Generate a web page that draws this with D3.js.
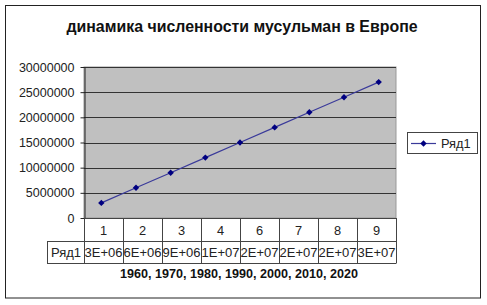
<!DOCTYPE html>
<html><head><meta charset="utf-8">
<script src="https://cdn.jsdelivr.net/npm/d3@7"></script>
<style>body{margin:0;background:#fff}svg{display:block;font-family:"Liberation Sans",Arial,sans-serif}</style>
</head><body><svg id="c" width="487" height="305"></svg>
<script>
const title = "динамика численности мусульман в Европе";
const xTitle = "1960, 1970, 1980, 1990, 2000, 2010, 2020";
const seriesName = "Ряд1";
const values = [3000000, 6000000, 9000000, 12000000, 15000000, 18000000, 21000000, 24000000, 27000000];
const tableCategories = ["1", "2", "3", "4", "6", "7", "8", "9"];
const tableValues = ["3E+06", "6E+06", "9E+06", "1E+07", "2E+07", "2E+07", "2E+07", "3E+07"];
const yTicks = [0, 5000000, 10000000, 15000000, 20000000, 25000000, 30000000];

const svg = d3.select("#c");
svg.append("rect").attr("x", 5.5).attr("y", 5.5).attr("width", 475).attr("height", 292.5)
  .attr("fill", "#fff").attr("stroke", "#222").attr("stroke-width", 1);

svg.append("text").attr("x", 242).attr("y", 32).attr("text-anchor", "middle")
  .attr("font-weight", "bold").attr("font-size", 15.9).attr("fill", "#111").text(title);

const L = 84, R = 396, T = 67, B = 218;
const y = d3.scaleLinear().domain([0, 30000000]).range([B, T]);
const xPts = d3.scalePoint().domain(d3.range(values.length)).range([L, R]).padding(0.5);
const xTab = d3.scaleBand().domain(tableCategories).range([L, R]);

svg.append("rect").attr("x", L).attr("y", T).attr("width", R - L).attr("height", B - T)
  .attr("fill", "#c0c0c0").attr("stroke", "#999").attr("stroke-width", 1);

svg.append("g").selectAll("line").data(yTicks.filter(d => d > 0)).join("line")
  .attr("x1", L).attr("x2", R).attr("y1", d => Math.round(y(d)) + 0.5).attr("y2", d => Math.round(y(d)) + 0.5)
  .attr("stroke", "#333").attr("stroke-width", 1);

const yAxis = svg.append("g").attr("transform", `translate(${L + 0.5},0)`)
  .call(d3.axisLeft(y).tickValues(yTicks).tickSize(4).tickPadding(6).tickFormat(d3.format("d")).tickSizeOuter(0));
yAxis.select(".domain").attr("stroke", "#222");
yAxis.selectAll(".tick line").attr("stroke", "#222");
yAxis.selectAll("text").attr("font-size", 12.5).attr("fill", "#222").attr("font-family", "Liberation Sans, Arial, sans-serif");

// data table
const tg = svg.append("g").attr("stroke", "#444").attr("stroke-width", 1).attr("fill", "none");
const rowTop = B, rowMid = 241.5, rowBot = 263.5;
tg.append("line").attr("x1", L).attr("x2", R).attr("y1", B + 0.5).attr("y2", B + 0.5);
tg.append("line").attr("x1", 47).attr("x2", R).attr("y1", rowMid).attr("y2", rowMid);
tg.append("line").attr("x1", 47).attr("x2", R).attr("y1", rowBot).attr("y2", rowBot);
tg.append("line").attr("x1", 47.5).attr("x2", 47.5).attr("y1", rowMid).attr("y2", rowBot);
tg.selectAll("line.v").data(tableCategories.concat(["end"])).join("line").attr("class", "v")
  .attr("x1", (d, i) => Math.round(L + i * xTab.bandwidth()) + 0.5)
  .attr("x2", (d, i) => Math.round(L + i * xTab.bandwidth()) + 0.5)
  .attr("y1", rowTop).attr("y2", rowBot);

svg.append("g").selectAll("text").data(tableCategories).join("text")
  .attr("x", d => xTab(d) + xTab.bandwidth() / 2).attr("y", 235).attr("text-anchor", "middle")
  .attr("font-size", 12.8).attr("fill", "#222").text(d => d);
svg.append("g").selectAll("text").data(tableValues).join("text")
  .attr("x", (d, i) => L + i * xTab.bandwidth() + xTab.bandwidth() / 2).attr("y", 257).attr("text-anchor", "middle")
  .attr("font-size", 13).attr("fill", "#222").text(d => d);
svg.append("text").attr("x", 66).attr("y", 257).attr("text-anchor", "middle")
  .attr("font-size", 13).attr("fill", "#222").text(seriesName);

svg.append("text").attr("x", 239).attr("y", 278).attr("text-anchor", "middle")
  .attr("font-weight", "bold").attr("font-size", 12.6).attr("fill", "#111").text(xTitle);

// line
const line = d3.line().x((d, i) => xPts(i)).y(d => y(d));
svg.append("path").datum(values).attr("d", line).attr("fill", "none")
  .attr("stroke", "#3a3a9a").attr("stroke-width", 1.2);
const diamond = d3.symbol().type(d3.symbolDiamond2).size(26);
svg.append("g").selectAll("path").data(values).join("path")
  .attr("transform", (d, i) => `translate(${xPts(i)},${y(d)})`).attr("d", diamond).attr("fill", "#000080");

// legend
svg.append("rect").attr("x", 407.5).attr("y", 132.5).attr("width", 70).attr("height", 21)
  .attr("fill", "#fff").attr("stroke", "#444");
svg.append("line").attr("x1", 411).attr("x2", 436).attr("y1", 143.5).attr("y2", 143.5)
  .attr("stroke", "#3a3a9a").attr("stroke-width", 1.2);
svg.append("path").attr("transform", "translate(423.5,143.5)").attr("d", diamond).attr("fill", "#000080");
svg.append("text").attr("x", 441).attr("y", 148).attr("font-size", 12.8).attr("fill", "#222").text(seriesName);
</script></body></html>
